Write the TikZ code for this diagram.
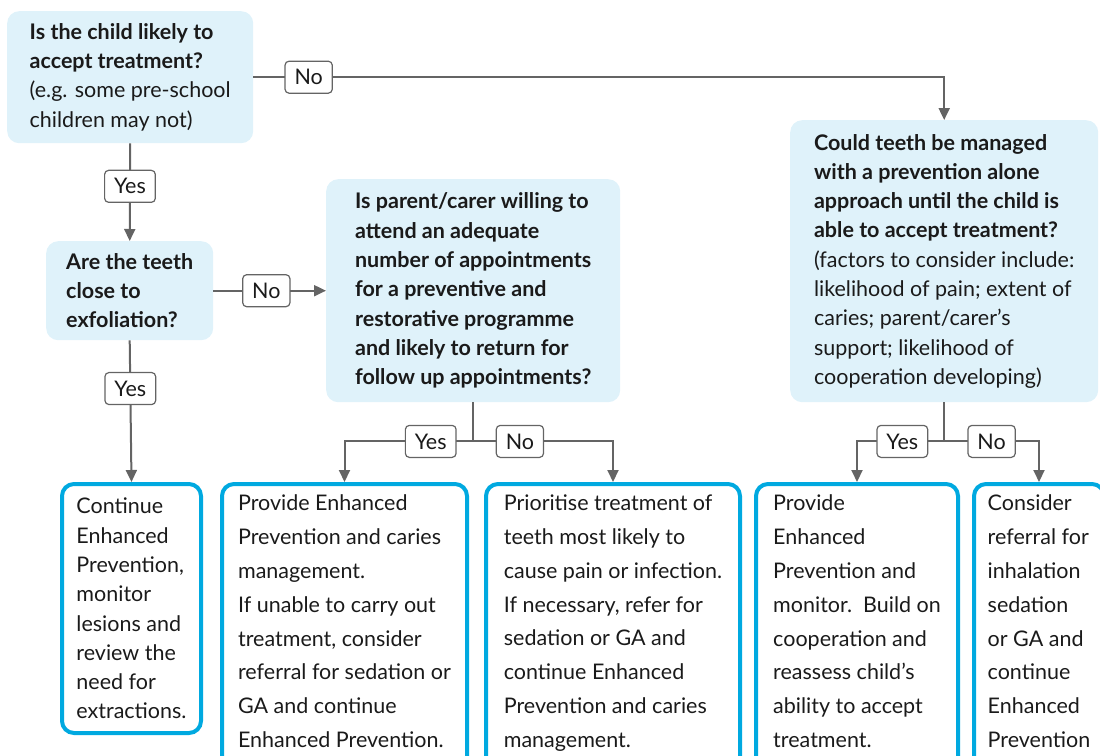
\documentclass[tikz,border=0pt]{standalone}
\usepackage{fontspec}
\setmainfont{Lato}
\usetikzlibrary{arrows.meta,positioning}
\definecolor{qblue}{RGB}{223,242,250}
\definecolor{ablue}{RGB}{0,169,224}
\definecolor{edgegray}{RGB}{100,100,100}
\definecolor{inkblack}{RGB}{26,26,26}
\newcommand{\qsize}{\fontsize{21.5}{29.3}\selectfont}
\newcommand{\asize}{\fontsize{21.5}{33.8}\selectfont}
\tikzstyle{question} = [rectangle, fill=qblue, rounded corners=12pt, align=left,
    font=\qsize, text=inkblack, anchor=north west, inner sep=8pt]
\tikzstyle{answer} = [rectangle, draw=ablue, line width=4pt, rounded corners=12pt,
    align=left, font=\asize, text=inkblack, anchor=north west,
    inner xsep=10pt, inner ysep=11pt, text depth=300pt]
\tikzstyle{choice} = [rectangle, draw=edgegray, fill=white, rounded corners=4pt,
    line width=1.2pt, font=\qsize, text=inkblack, minimum height=32pt,
    inner xsep=9.5pt, inner ysep=0pt]
\tikzstyle{line} = [draw=edgegray, line width=2pt, -{Triangle[length=12pt,width=11pt]}]

\begin{document}
\begin{tikzpicture}[x=1pt, y=-1pt]
  \useasboundingbox (0,0) rectangle (1100,755);
  % Place nodes
  \node [question, minimum width=246pt, minimum height=132pt] (child) at (7,11)
  {\textbf{Is the child likely to}\\\textbf{accept treatment?}\\
   (e.g. some pre-school\\children may not)};
  \node [question, minimum width=167pt, minimum height=99pt] (exfol) at (46,241)
  {\textbf{Are the teeth}\\\textbf{close to}\\\textbf{exfoliation?}};
  \node [question, minimum width=294pt, minimum height=223pt] (parent) at (326,179)
  {\textbf{Is parent/carer willing to}\\\textbf{attend an adequate}\\
   \textbf{number of appointments}\\\textbf{for a preventive and}\\
   \textbf{restorative programme}\\\textbf{and likely to return for}\\
   \textbf{follow up appointments?}};
  \node [question, minimum width=308pt, minimum height=282pt] (prevent) at (790,120)
  {\textbf{Could teeth be managed}\\\textbf{with a prevention alone}\\
   \textbf{approach until the child is}\\\textbf{able to accept treatment?}\\
   (factors to consider include:\\likelihood of pain; extent of\\
   caries; parent/carer's\\support; likelihood of\\cooperation developing)};
  \node [answer, font=\qsize, text depth=0pt, inner ysep=8pt,
    minimum width=139pt, minimum height=249pt] (monitor) at (60,482)
  {Continue\\Enhanced\\Prevention,\\monitor\\lesions and\\review the\\need for\\extractions.};
  \node [answer, minimum width=245pt] (caries) at (220,482)
  {Provide Enhanced\\Prevention and caries\\management.\\If unable to carry out\\
   treatment, consider\\referral for sedation or\\GA and continue\\Enhanced Prevention.};
  \node [answer, minimum width=254pt] (priority) at (484,482)
  {Prioritise treatment of\\teeth most likely to\\cause pain or infection.\\
   If necessary, refer for\\sedation or GA and\\continue Enhanced\\
   Prevention and caries\\management.};
  \node [answer, minimum width=202pt] (build) at (754,482)
  {Provide\\Enhanced\\Prevention and\\monitor.\ \ Build on\\cooperation and\\
   reassess child’s\\ability to accept\\treatment.};
  \node [answer, minimum width=130pt] (referral) at (972,482)
  {Consider\\referral for\\inhalation\\sedation\\or GA and\\continue\\
   Enhanced\\Prevention};
  % Draw edges
  \draw [line] (child.east) -| node [choice, pos=0.04] (noA) {No} (prevent.north);
  \draw [line] (child.south) -- node [choice, pos=0.44] (yesA) {Yes} (exfol.north);
  \draw [line] (exfol.east) -- node [choice, pos=0.47] (noB) {No} (parent.west);
  \draw [line] (exfol.south) -- node [choice, pos=0.34] (yesB) {Yes} (monitor.north);
  \draw [line] (parent.south) -- ++(0,39) -| node [choice, pos=0.165] (yesC) {Yes} (caries.north);
  \draw [line] (parent.south) -- ++(0,39) -| node [choice, pos=0.167] (noC) {No} (priority.north);
  \draw [line] (prevent.south) -- ++(0,39) -| node [choice, pos=0.24] (yesD) {Yes} (build.north);
  \draw [line] (prevent.south) -- ++(0,39) -| node [choice, pos=0.25] (noD) {No} (referral.north);
\end{tikzpicture}
\end{document}
